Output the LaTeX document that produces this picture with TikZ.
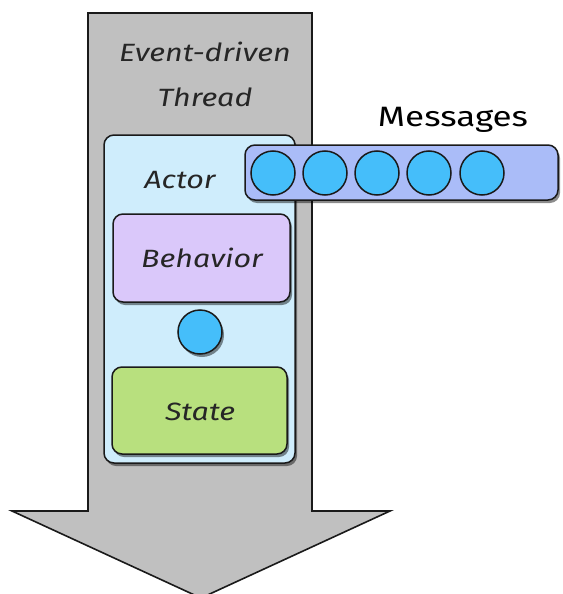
\documentclass[tikz,border=0pt]{standalone}
\usepackage{fontspec}
\newfontfamily\hand{Fira Sans}
\usetikzlibrary{shadows}
\definecolor{shaftc}{HTML}{C0C0C0}
\definecolor{actorc}{HTML}{CFEDFC}
\definecolor{behavc}{HTML}{DAC8FA}
\definecolor{statec}{HTML}{B8E07E}
\definecolor{msgc}{HTML}{AABCF8}
\definecolor{dotc}{HTML}{45BEFA}
\definecolor{linec}{HTML}{1A1A1A}
\tikzset{
  boxshadow/.style={drop shadow={shadow xshift=2pt, shadow yshift=-3pt, opacity=0.45, fill=black}},
  roundbox/.style={draw=linec, line width=1.5pt, rounded corners=10pt, inner sep=0pt, boxshadow},
  dot/.style={circle, draw=linec, line width=1.5pt, fill=dotc, minimum size=44pt, inner sep=0pt},
  handtext/.style={font=\hand\itshape\fontsize{25}{28}\selectfont, text=black!85, inner sep=0pt, xscale=1.22},
  msgtext/.style={font=\hand\fontsize{28}{32}\selectfont, text=black, inner sep=0pt, xscale=1.25},
}
\begin{document}
\begin{tikzpicture}[x=1pt,y=-1pt]
\useasboundingbox (0,0) rectangle (562,594);
% thread arrow
\draw[fill=shaftc, draw=linec, line width=1.6pt, line join=miter]
  (88,13) -- (312,13) -- (312,511) -- (390,511) -- (201,598) -- (12,511) -- (88,511) -- cycle;
\node[handtext] (evt) at (205,52) {Event-driven};
\node[handtext] (thr) at (205,97) {Thread};
% actor
\node[roundbox, fill=actorc, minimum width=191pt, minimum height=328pt] (actor) at (199.5,299) {};
\node[handtext] (actorlbl) at (180,180) {Actor};
\node[roundbox, fill=behavc, minimum width=177pt, minimum height=88pt] (behav) at (201.5,258) {};
\node[handtext] (behavlbl) at (202,258) {Behavior};
\node[dot, boxshadow] (mid) at (200,332) {};
\node[roundbox, fill=statec, minimum width=175pt, minimum height=87pt] (state) at (199.5,410.5) {};
\node[handtext] (statelbl) at (200,412) {State};
% messages
\node[msgtext] (msglbl) at (453,120) {Messages};
\node[roundbox, fill=msgc, minimum width=313pt, minimum height=55pt] (queue) at (401.5,172.5) {};
\node[dot] (m1) at (273,173) {};
\node[dot] (m2) at (325,173) {};
\node[dot] (m3) at (377,173) {};
\node[dot] (m4) at (429,173) {};
\node[dot] (m5) at (482,173) {};
\end{tikzpicture}
\end{document}
